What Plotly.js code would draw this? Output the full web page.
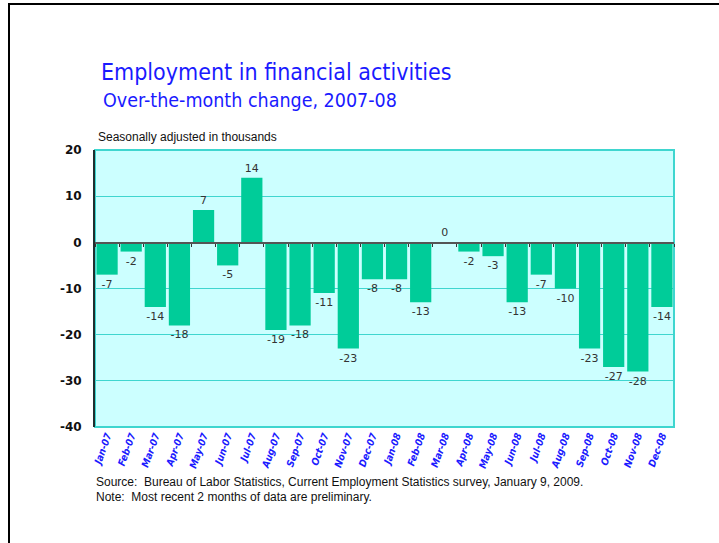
<!DOCTYPE html>
<html>
<head>
<meta charset="utf-8">
<script src="https://cdn.plot.ly/plotly-3.0.1.min.js"></script>
<style>
  html, body { margin: 0; padding: 0; background: #fff; }
  #wrap { position: relative; width: 719px; height: 543px; overflow: hidden; }
  #chart { width: 719px; height: 543px; }
  #frame { position: absolute; left: 8px; top: 3px; width: 720px; height: 560px;
           border-left: 2px solid #000; border-top: 2px solid #000; pointer-events: none; }
</style>
</head>
<body>
<div id="wrap">
  <div id="chart"></div>
  <div id="frame"></div>
</div>
<script>
// ---- data ----
const months = ["Jan-07","Feb-07","Mar-07","Apr-07","May-07","Jun-07","Jul-07","Aug-07","Sep-07","Oct-07","Nov-07","Dec-07",
                "Jan-08","Feb-08","Mar-08","Apr-08","May-08","Jun-08","Jul-08","Aug-08","Sep-08","Oct-08","Nov-08","Dec-08"];
const change = [-7, -2, -14, -18, 7, -5, 14, -19, -18, -11, -23, -8,
                -8, -13, 0, -2, -3, -13, -7, -10, -23, -27, -28, -14];
const yTicks = [20, 10, 0, -10, -20, -30, -40];

const titleText = "Employment in financial activities";
const subtitleText = "Over-the-month change, 2007-08";
const unitText = "Seasonally adjusted in thousands";
const sourceText = "Source:&nbsp;&nbsp;Bureau of Labor Statistics, Current Employment Statistics survey, January 9, 2009.";
const noteText = "Note:&nbsp;&nbsp;Most recent 2 months of data are preliminary.";

// ---- geometry helpers (page pixels -> paper coords) ----
const W = 719, H = 543;
const M = {l: 95, r: 45, t: 150, b: 116};
const pw = W - M.l - M.r, ph = H - M.t - M.b;
const px = x => (x - M.l) / pw;
const py = y => (H - M.b - y) / ph;

const turq = "#3fd6cf";

const trace = {
  type: "bar",
  x: months,
  y: change,
  marker: {color: "#00cc99", line: {width: 0}},
  text: change.map(String),
  textposition: "outside",
  textangle: 0,
  constraintext: "none",
  cliponaxis: false,
  textfont: {family: "DejaVu Sans", size: 11, color: "#333333"},
  hoverinfo: "x+y",
  xaxis: "x",
  yaxis: "y"
};

const layout = {
  width: W, height: H,
  margin: M,
  paper_bgcolor: "#ffffff",
  plot_bgcolor: "#ccffff",
  showlegend: false,
  bargap: 0.12,
  title: {
    text: titleText,
    xref: "container", yref: "container",
    x: 101 / W, xanchor: "left",
    y: 1 - 72 / H, yanchor: "middle",
    font: {family: "DejaVu Sans Condensed, DejaVu Sans", size: 23, color: "#1a1aff"}
  },
  xaxis: {
    type: "category",
    range: [-0.5, 23.5],
    showgrid: false,
    zeroline: false,
    showline: false,
    ticks: "",
    tickangle: -70,
    tickfont: {family: "DejaVu Sans Condensed, DejaVu Sans", size: 10, color: "#1a1aff", weight: "bold", style: "italic"},
    fixedrange: true
  },
  xaxis2: {
    overlaying: "x",
    anchor: "free",
    position: py(242),
    range: [-0.5, 23.5],
    tickmode: "linear", tick0: -0.5, dtick: 1,
    ticks: "outside", ticklen: 3, tickwidth: 1, tickcolor: "#333333",
    showticklabels: false,
    showline: true, linecolor: "#555555", linewidth: 1.5,
    showgrid: false, zeroline: false,
    fixedrange: true
  },
  yaxis: {
    range: [-40, 20],
    tickmode: "array",
    tickvals: yTicks,
    ticktext: yTicks.map(String),
    showgrid: true, gridcolor: turq, gridwidth: 1,
    zeroline: false,
    showline: true, linecolor: "#1f2f2f", linewidth: 2,
    ticks: "outside", ticklen: 9, tickcolor: "rgba(0,0,0,0)",
    tickfont: {family: "DejaVu Sans", size: 12, color: "#111111", weight: "bold"},
    fixedrange: true
  },
  shapes: [{
    type: "rect", xref: "paper", yref: "paper", x0: 0, x1: 1, y0: 0, y1: 1,
    line: {color: turq, width: 2}, fillcolor: "rgba(0,0,0,0)", layer: "below"
  }],
  annotations: [
    {text: subtitleText, xref: "paper", yref: "paper", x: px(101), y: py(101), xanchor: "left", yanchor: "middle",
     showarrow: false, font: {family: "DejaVu Sans Condensed, DejaVu Sans", size: 19.5, color: "#1a1aff"}},
    {text: unitText, xref: "paper", yref: "paper", x: px(96), y: py(137), xanchor: "left", yanchor: "middle",
     showarrow: false, font: {family: "Liberation Sans", size: 12, color: "#111111"}},
    {text: sourceText, xref: "paper", yref: "paper", x: px(94), y: py(482), xanchor: "left", yanchor: "middle",
     showarrow: false, font: {family: "Liberation Sans", size: 12, color: "#111111"}},
    {text: noteText, xref: "paper", yref: "paper", x: px(94), y: py(497), xanchor: "left", yanchor: "middle",
     showarrow: false, font: {family: "Liberation Sans", size: 12, color: "#111111"}}
  ]
};

// invisible trace to activate xaxis2
const axisTrace = {type: "scatter", x: [0], y: [0], xaxis: "x2", yaxis: "y", mode: "markers",
                   marker: {opacity: 0}, hoverinfo: "skip", showlegend: false};

Plotly.newPlot("chart", [trace, axisTrace], layout, {displayModeBar: false, staticPlot: true});
</script>
</body>
</html>
